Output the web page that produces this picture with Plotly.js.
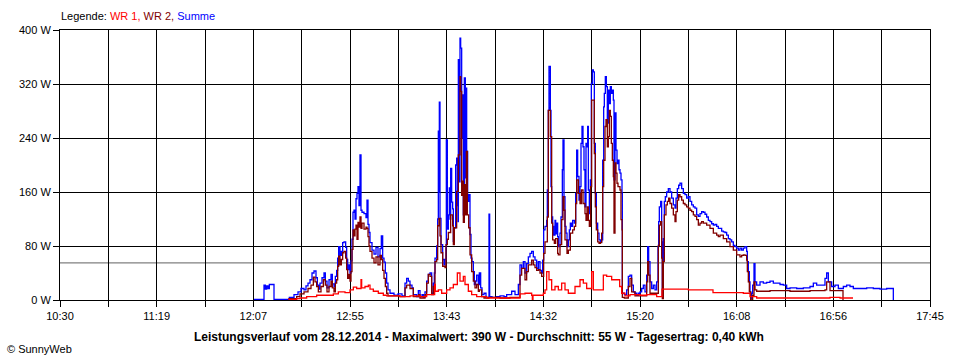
<!DOCTYPE html>
<html>
<head>
<meta charset="utf-8">
<script src="https://cdn.plot.ly/plotly-3.0.1.min.js"></script>
<style>
  html, body { margin: 0; padding: 0; background: #ffffff; }
  #chart { width: 960px; height: 360px; }
</style>
</head>
<body>
<div id="chart"></div>
<script>
// ---------------- data ----------------
const day = '2014-12-28';
const seriesNames = ['WR 1', 'WR 2', 'Summe'];
const tickLabels = ['10:30', '11:19', '12:07', '12:55', '13:43', '14:32', '15:20', '16:08', '16:56', '17:45'];
const yTickValues = [0, 80, 160, 240, 320, 400];
const averageW = 55;
const chartTitle = 'Leistungsverlauf vom 28.12.2014 - Maximalwert: 390 W - Durchschnitt: 55 W - Tagesertrag: 0,40 kWh';
const copyright = '© SunnyWeb';

// Summe (blue)
const sumTime = [
 '12:07:00','12:12:00','12:12:40','12:13:20','12:14:00','12:14:40','12:17:00','12:24:40','12:27:00','12:29:00',
 '12:30:30','12:32:00','12:33:00','12:34:00','12:35:00','12:36:00','12:37:00','12:38:00','12:38:40','12:39:20',
 '12:40:00','12:41:00','12:42:00','12:42:40','12:43:30','12:44:30','12:45:30','12:46:10','12:47:00','12:47:40',
 '12:48:20','12:48:50','12:49:20','12:50:00','12:50:40','12:51:20','12:52:00','12:52:50','12:53:20','12:53:50',
 '12:54:30','12:55:00','12:55:30','12:56:00','12:56:30','12:57:00','12:57:30','12:58:00','12:58:30','12:59:00',
 '12:59:30','13:00:00','13:00:30','13:01:00','13:02:00','13:03:00','13:03:30','13:04:00','13:04:30','13:05:00',
 '13:06:00','13:07:00','13:08:00','13:09:00','13:10:00','13:10:40','13:11:20','13:12:00','13:12:40','13:13:20',
 '13:14:00','13:15:00','13:17:00','13:19:00','13:21:00','13:22:30','13:23:20','13:24:10','13:25:00','13:26:00',
 '13:26:40','13:28:20','13:29:10',
 '13:30:00','13:31:00','13:31:40','13:32:30','13:33:20','13:34:10','13:35:00','13:35:50','13:36:40','13:37:10',
 '13:37:30','13:38:20','13:38:50','13:39:10','13:39:30','13:39:40','13:40:00','13:40:30','13:41:20','13:42:00',
 '13:42:30','13:43:00','13:43:10','13:43:40','13:44:10','13:44:40','13:45:00','13:45:20','13:45:50','13:46:20',
 '13:46:40','13:47:10','13:47:50','13:48:20','13:48:40','13:49:00','13:49:10','13:49:40','13:50:00','13:50:20',
 '13:50:50','13:51:10','13:51:40','13:52:10','13:52:40','13:53:00','13:53:20','13:53:50','13:54:20','13:55:00',
 '13:55:30','13:56:00','13:56:40','13:57:10','13:57:50','13:58:20','13:59:10','13:59:40','14:00:20','14:01:00',
 '14:02:00','14:03:00','14:04:30','14:04:50','14:06:00','14:08:20','14:10:00','14:12:00','14:13:20','14:15:50',
 '14:17:30','14:19:10','14:20:00','14:20:50','14:21:40',
 '14:22:30','14:23:20','14:24:10','14:25:00','14:25:50','14:26:40','14:27:30','14:28:20','14:29:10','14:30:00',
 '14:30:50','14:31:20','14:31:50','14:32:30','14:33:20','14:33:40','14:34:10','14:34:30','14:35:10','14:35:30',
 '14:35:50','14:36:20','14:36:50','14:37:30','14:37:50','14:38:20','14:38:50','14:39:10','14:40:00','14:40:30',
 '14:41:10','14:41:30','14:42:00','14:42:30','14:43:00','14:43:30','14:44:10','14:44:40','14:45:10','14:45:50',
 '14:46:20','14:47:10','14:47:50','14:48:20','14:48:50','14:49:30','14:50:00','14:50:30','14:51:00','14:51:30',
 '14:52:00','14:52:30','14:53:00','14:53:30','14:53:50','14:54:10','14:54:40','14:55:10','14:55:40','14:56:10',
 '14:56:40','14:57:10','14:57:40','14:58:10','14:58:50','14:59:30','15:00:10','15:00:50','15:01:20','15:01:50',
 '15:02:10','15:02:40','15:03:10','15:03:40','15:04:10','15:04:40','15:05:10','15:05:40','15:06:10','15:06:40',
 '15:07:00','15:07:30','15:08:00','15:08:30','15:09:00','15:09:30','15:10:00','15:10:30','15:11:00','15:11:10',
 '15:12:10','15:13:20','15:14:10',
 '15:15:00','15:15:50','15:16:40','15:17:30','15:18:20','15:19:10','15:20:00','15:20:50','15:21:40','15:22:30',
 '15:23:20','15:23:50','15:24:20','15:25:00','15:25:50','15:26:40','15:27:30','15:28:20','15:29:00','15:29:20',
 '15:29:40','15:30:20','15:30:50','15:31:10','15:31:40','15:32:10','15:32:40','15:33:20','15:34:10','15:35:00',
 '15:35:50','15:36:40','15:37:30','15:38:00','15:38:40','15:39:20','15:40:00','15:40:50','15:41:40','15:42:30',
 '15:43:20','15:44:10','15:45:00','15:45:50','15:46:40','15:47:30','15:48:20','15:49:10','15:50:00','15:50:50',
 '15:51:40','15:52:30','15:53:20','15:54:10','15:55:00','15:55:50','15:56:40','15:57:30','15:58:20','15:59:10',
 '16:00:00','16:00:50','16:01:40','16:02:30','16:03:20','16:04:10','16:05:00','16:05:50','16:06:40','16:07:30',
 '16:08:20','16:09:10','16:10:00','16:10:50','16:11:40','16:12:30','16:13:20','16:13:40','16:14:10','16:14:40',
 '16:15:00','16:15:20','16:15:50','16:16:20','16:17:00','16:17:30','16:18:20','16:20:00','16:21:40','16:23:20',
 '16:25:00','16:26:40','16:28:20','16:30:00','16:31:40','16:33:20','16:35:00','16:38:20','16:41:40','16:45:00',
 '16:46:40','16:48:20','16:50:50','16:52:30','16:53:20','16:54:10','16:55:50','16:57:30','16:59:10','17:01:40',
 '17:03:20','17:05:00','17:06:40','17:10:00','17:13:20','17:16:40','17:20:00','17:23:20','17:26:40'
];
const sumW = [
 1,22,16,21,17,23,1,4,8,12,
 17,15,21,25,30,40,43,33,22,16,
 25,33,40,28,18,30,38,24,20,35,
 44,62,79,66,72,85,86,78,60,45,
 52,40,58,90,130,133,120,150,158,168,
 140,215,133,130,128,122,148,112,100,85,
 74,68,78,64,76,95,62,56,40,25,
 15,10,7,9,6,25,32,28,22,18,
 8,5,14,
 5,8,4,12,28,38,40,10,25,40,
 62,80,120,250,160,293,121,82,60,52,
 60,77,237,105,126,166,120,195,145,135,
 87,107,200,210,140,116,356,175,388,373,
 240,304,126,329,181,314,220,146,156,97,
 62,57,42,23,28,37,23,40,18,8,
 10,4,127,5,4,5,6,5,8,13,
 8,23,52,47,57,
 40,54,64,69,72,64,59,47,57,44,
 40,59,104,109,118,163,281,346,281,168,
 123,109,96,118,98,114,94,79,99,123,
 193,237,153,109,99,79,89,104,114,109,
 118,114,158,222,183,148,168,232,257,227,
 193,138,232,227,257,163,128,178,321,341,
 338,232,158,114,99,89,86,89,207,286,
 306,331,316,262,311,291,316,306,311,296,
 178,277,222,202,207,193,188,178,158,10,
 8,15,35,
 37,22,12,10,7,10,12,17,22,12,
 37,79,57,27,17,22,15,27,79,116,
 138,146,86,7,91,146,153,160,165,160,
 151,141,136,151,165,170,173,165,158,156,
 151,153,146,141,138,136,126,124,128,131,
 130,127,123,118,116,113,111,112,109,106,
 106,102,101,100,96,91,89,86,81,79,
 77,74,77,74,77,79,72,57,42,27,
 12,2,10,22,54,27,22,27,25,26,
 28,25,25,23,22,17,18,17,18,20,
 25,22,22,32,40,27,20,22,17,20,
 22,20,17,17,18,17,16,17,0
];

// WR 2 (dark red)
const wr2Time = [
 '12:24:10','12:28:20','12:30:00','12:32:00','12:34:00','12:35:30','12:36:40','12:37:30','12:38:20','12:39:10',
 '12:40:30','12:41:40','12:42:40','12:43:30','12:44:30','12:45:30','12:46:10','12:47:00','12:47:40','12:48:20',
 '12:48:50','12:49:20','12:50:00','12:50:40','12:51:20','12:52:00','12:52:50','12:53:20','12:53:50','12:54:30',
 '12:55:00','12:55:30','12:56:00','12:56:30','12:57:00','12:57:30','12:58:00','12:58:30','12:59:00','12:59:30',
 '13:00:00','13:00:30','13:01:00','13:02:00','13:03:00','13:03:30','13:04:00','13:04:30','13:05:00','13:06:00',
 '13:07:00','13:08:00','13:09:00','13:10:00','13:10:40','13:11:20','13:12:00','13:12:40','13:13:20','13:14:00',
 '13:20:00','13:22:30','13:23:20','13:25:00','13:26:40','13:29:20',
 '13:30:00','13:32:30','13:33:20','13:34:10','13:35:00','13:35:50','13:36:40','13:37:30','13:38:20','13:38:50',
 '13:39:30','13:40:00','13:40:30','13:41:20','13:42:30','13:43:00','13:43:40','13:44:10','13:45:20','13:46:20',
 '13:46:40','13:47:10','13:48:20','13:49:10','13:50:00','13:50:20','13:50:50','13:51:10','13:51:40','13:52:10',
 '13:52:40','13:53:10','13:53:40','13:54:20','13:55:00','13:55:50','13:56:40','13:57:30','13:58:20','13:59:10',
 '13:59:40','14:00:50','14:02:00','14:04:30','14:10:00','14:15:00','14:20:00','14:20:50',
 '14:22:30','14:23:20','14:24:10','14:25:50','14:26:40','14:27:30','14:28:20','14:29:10','14:30:00','14:30:50',
 '14:31:50','14:32:30','14:33:40','14:34:10','14:35:10','14:35:50','14:36:20','14:37:10','14:37:50','14:38:50',
 '14:39:10','14:40:00','14:40:50','14:41:30','14:42:00','14:42:30','14:43:30','14:44:10','14:45:10','14:46:20',
 '14:47:10','14:47:50','14:48:20','14:49:10','14:50:00','14:50:40','14:51:30','14:52:30','14:53:00','14:53:30',
 '14:54:10','14:54:40','14:55:20','14:55:50','14:56:40','14:57:10','14:57:40','14:58:10','14:58:50','14:59:30',
 '15:00:10','15:00:50','15:01:20','15:01:50','15:02:30','15:03:00','15:03:40','15:04:10','15:04:40','15:05:10',
 '15:05:40','15:06:10','15:06:40','15:07:00','15:07:30','15:08:00','15:08:30','15:09:00','15:10:00','15:10:30',
 '15:11:00','15:11:10','15:12:10','15:14:10',
 '15:15:00','15:15:50','15:17:30','15:23:20','15:23:50','15:24:20','15:25:00','15:29:10','15:29:40','15:30:20',
 '15:30:50','15:31:10','15:31:40','15:32:10','15:33:00','15:33:40','15:34:20','15:35:00','15:35:50','15:36:40',
 '15:37:30','15:38:00','15:38:40','15:39:20','15:40:00','15:40:50','15:41:40','15:42:30','15:43:20','15:44:10',
 '15:45:00','15:45:50','15:46:40','15:47:30','15:48:20','15:49:10','15:50:00','15:50:50','15:51:40','15:53:20',
 '15:55:00','15:56:40','15:58:20','15:59:10','16:00:00','16:01:40','16:03:20','16:05:00','16:06:40','16:08:20',
 '16:10:00','16:10:50','16:11:40','16:12:30','16:13:20','16:13:40','16:14:10','16:14:40','16:15:20','16:16:20',
 '16:17:00','16:17:30','16:18:20','16:25:00','16:35:00','16:45:00','16:52:30','16:53:20','16:55:00','17:01:30'
];
const wr2W = [
 2,5,9,12,17,22,34,27,20,12,
 20,30,22,12,20,28,18,12,25,30,
 50,65,52,60,70,72,62,45,32,38,
 28,42,75,104,95,105,111,90,115,108,
 123,106,114,105,108,106,94,80,72,62,
 55,64,52,66,60,44,32,20,10,6,
 5,18,22,17,5,8,
 3,8,25,38,35,8,20,57,60,110,
 121,95,70,50,48,82,90,100,126,110,
 82,107,161,215,331,309,155,176,115,171,
 126,220,126,107,67,42,28,18,23,13,
 15,5,3,4,3,4,37,47,
 30,42,52,59,52,48,44,45,40,35,
 69,86,123,281,242,114,89,84,91,69,
 67,82,119,153,133,89,69,74,99,104,
 109,143,178,158,143,163,143,128,118,138,
 118,109,168,296,296,217,138,104,86,84,
 85,99,168,207,257,267,227,242,281,272,
 232,207,183,99,203,188,173,168,163,119,
 104,4,3,20,
 32,12,6,27,57,37,10,81,111,116,
 62,2,57,126,141,146,151,143,136,126,
 116,131,148,156,153,148,143,141,138,136,
 133,131,126,124,119,111,114,116,114,111,
 106,99,96,94,96,91,86,79,74,67,
 64,66,67,66,59,42,27,12,0,7,
 27,15,13,14,13,14,15,27,14,0
];

// WR 1 (red)
const wr1Time = [
 '12:24:10','12:28:20','12:30:00','12:33:20','12:38:20','12:46:40','12:49:10','12:52:30','12:55:00','12:56:40',
 '12:58:20','13:00:30','13:00:50','13:02:30','13:04:10','13:05:00','13:06:40','13:09:10','13:11:40','13:13:20',
 '13:20:00','13:25:00',
 '13:30:00','13:33:20','13:37:20','13:37:40','13:39:10','13:40:50','13:43:20','13:45:00','13:46:40','13:48:40',
 '13:50:00','13:51:40','13:52:30','13:54:10','13:55:50','13:58:20','14:03:20','14:20:00',
 '14:22:30','14:25:50','14:26:10','14:26:30','14:31:40','14:32:30','14:33:20','14:34:30','14:35:50','14:37:30',
 '14:39:10','14:40:50','14:42:30','14:44:10','14:47:30','14:50:00','14:51:40','14:53:20','14:55:50','14:56:40',
 '15:01:40','15:03:20','15:05:50','15:08:20','15:09:50','15:10:50','15:12:30',
 '15:15:00','15:20:00','15:23:20','15:28:20','15:31:00','15:44:10','15:56:30','16:11:40','16:15:00','16:18:20',
 '16:55:00','17:00:00','17:06:30'
];
const wr1W = [
 1,2,3,5,7,9,12,11,15,19,
 17,30,18,20,22,16,13,10,7,6,
 5,6,
 5,8,23,13,15,10,15,18,23,40,
 28,35,23,13,8,5,3,9,
 10,7,1,7,10,15,42,30,15,20,
 15,25,15,10,20,30,25,17,42,15,
 37,35,30,30,20,10,6,
 8,7,8,5,16,15,11,10,5,3,
 4,3,3
];

// ---------------- chart ----------------
const toDate = t => day + ' ' + t;
const xStart = toDate('10:30:00');
const xEnd = toDate('17:45:00');

// 18 grid intervals, labels on every second line
const t0 = new Date(xStart.replace(' ', 'T')).getTime();
const t1 = new Date(xEnd.replace(' ', 'T')).getTime();
const fmt = ms => {
  const d = new Date(ms);
  const p = n => String(n).padStart(2, '0');
  return d.getFullYear() + '-' + p(d.getMonth() + 1) + '-' + p(d.getDate()) + ' ' +
         p(d.getHours()) + ':' + p(d.getMinutes()) + ':' + p(d.getSeconds());
};
const nGrid = (tickLabels.length - 1) * 2;
const xTickVals = [];
const xTickText = [];
for (let i = 0; i <= nGrid; i++) {
  xTickVals.push(fmt(t0 + (t1 - t0) * i / nGrid));
  xTickText.push(i % 2 === 0 ? tickLabels[i / 2] : '');
}

const colors = { 'WR 1': '#ff0000', 'WR 2': '#800000', 'Summe': '#0000ff' };
const font = 'Liberation Sans, Arial, sans-serif';

const traces = [
  { name: seriesNames[2], x: sumTime.map(toDate), y: sumW },
  { name: seriesNames[1], x: wr2Time.map(toDate), y: wr2W },
  { name: seriesNames[0], x: wr1Time.map(toDate), y: wr1W }
].map(s => ({
  type: 'scatter', mode: 'lines', name: s.name, x: s.x, y: s.y,
  line: { color: colors[s.name], width: 1.3, shape: 'hv' },
  hoverinfo: 'skip'
}));

const legendText = 'Legende: ' +
  '<span style="color:' + colors['WR 1'] + '">' + seriesNames[0] + ', </span>' +
  '<span style="color:' + colors['WR 2'] + '">' + seriesNames[1] + ', </span>' +
  '<span style="color:' + colors['Summe'] + '">' + seriesNames[2] + '</span>';

const layout = {
  width: 960, height: 360,
  margin: { l: 60, r: 30, t: 30, b: 60, pad: 0 },
  paper_bgcolor: '#ffffff', plot_bgcolor: '#ffffff',
  showlegend: false,
  font: { family: font, size: 11, color: '#000000' },
  xaxis: {
    type: 'date', range: [xStart, xEnd], tickmode: 'array',
    tickvals: xTickVals, ticktext: xTickText,
    showgrid: true, gridcolor: '#000000', gridwidth: 1,
    ticks: 'outside', ticklen: 6, tickcolor: '#000000', tickwidth: 1,
    showline: true, linecolor: '#000000', linewidth: 1, mirror: true,
    zeroline: false, fixedrange: true,
    tickfont: { family: font, size: 11, color: '#000000' }
  },
  yaxis: {
    range: [0, 400], tickmode: 'array',
    tickvals: yTickValues, ticktext: yTickValues.map(v => v + ' W'),
    showgrid: true, gridcolor: '#000000', gridwidth: 1,
    ticks: 'outside', ticklen: 6, tickcolor: '#000000', tickwidth: 1,
    showline: true, linecolor: '#000000', linewidth: 1, mirror: true,
    zeroline: false, fixedrange: true,
    tickfont: { family: font, size: 11, color: '#000000' }
  },
  shapes: [{
    type: 'line', xref: 'paper', x0: 0, x1: 1, yref: 'y', y0: averageW, y1: averageW,
    line: { color: '#808080', width: 1.3 }, layer: 'below'
  }],
  annotations: [
    { text: legendText, xref: 'paper', yref: 'paper', x: 0, y: 1, xanchor: 'left', yanchor: 'bottom',
      yshift: 6, xshift: -1, showarrow: false, font: { family: font, size: 11, color: '#000000' } },
    { text: '<b>' + chartTitle + '</b>', xref: 'paper', yref: 'paper', x: 0.4815, y: 0, xanchor: 'center',
      yanchor: 'middle', yshift: -37, showarrow: false, font: { family: font, size: 12, color: '#000000' } },
    { text: copyright, xref: 'paper', yref: 'paper', x: 0, y: 0, xanchor: 'left', yanchor: 'middle',
      xshift: -55, yshift: -49, showarrow: false, font: { family: font, size: 11, color: '#000000' } }
  ]
};

Plotly.newPlot('chart', traces, layout, { staticPlot: true, displayModeBar: false });
</script>
</body>
</html>
